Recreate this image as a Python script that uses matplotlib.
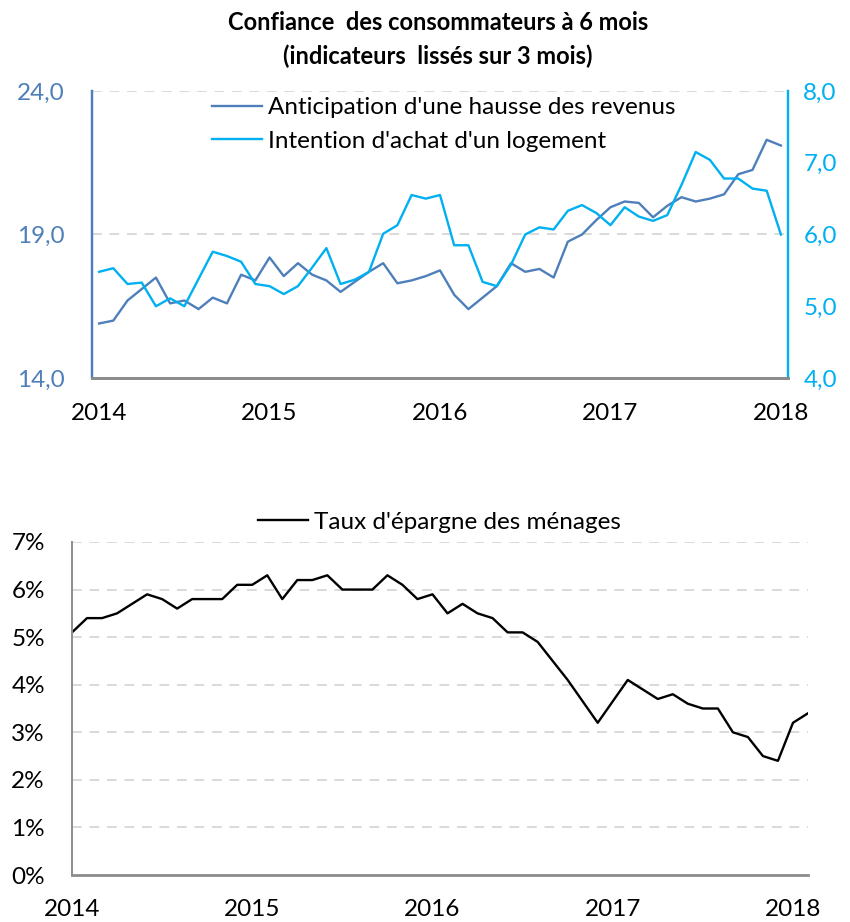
import matplotlib.pyplot as plt

plt.rcParams['font.family'] = ['Lato', 'DejaVu Sans']

# monthly points, Jan 2014 onwards
revenus = [15.9, 16.0, 16.7, 17.1, 17.5, 16.6, 16.7, 16.4, 16.8, 16.6,
           17.6, 17.4, 18.2, 17.55, 18.0, 17.6, 17.4, 17.0, 17.35, 17.7,
           18.0, 17.3, 17.4, 17.55, 17.75, 16.9, 16.4, 16.8, 17.2, 18.0,
           17.7, 17.8, 17.5, 18.75, 19.0, 19.5, 19.95, 20.15, 20.1, 19.6,
           20.0, 20.3, 20.15, 20.25, 20.4, 21.1, 21.25, 22.3, 22.1]
logement = [5.48, 5.53, 5.31, 5.33, 5.0, 5.11, 5.0, 5.38, 5.76, 5.7,
            5.62, 5.31, 5.28, 5.17, 5.28, 5.54, 5.81, 5.31, 5.37, 5.48,
            6.01, 6.13, 6.55, 6.5, 6.55, 5.85, 5.85, 5.34, 5.28, 5.58,
            6.0, 6.1, 6.07, 6.33, 6.41, 6.3, 6.13, 6.38, 6.25, 6.19,
            6.27, 6.69, 7.15, 7.04, 6.78, 6.78, 6.64, 6.61, 6.0]
epargne = [5.1, 5.4, 5.4, 5.5, 5.7, 5.9, 5.8, 5.6, 5.8, 5.8,
           5.8, 6.1, 6.1, 6.3, 5.8, 6.2, 6.2, 6.3, 6.0, 6.0,
           6.0, 6.3, 6.1, 5.8, 5.9, 5.5, 5.7, 5.5, 5.4, 5.1,
           5.1, 4.9, 4.5, 4.1, 3.65, 3.2, 3.65, 4.1, 3.9, 3.7,
           3.8, 3.6, 3.5, 3.5, 3.0, 2.9, 2.5, 2.4, 3.2, 3.4]
years = ['2014', '2015', '2016', '2017', '2018']

DARK = '#4F7FBA'
CYAN = '#00B0F0'
GRID = '#D9D9D9'
AXIS = '#8C8C8C'
FS = 17.5

fig = plt.figure(figsize=(8.5, 9.22), dpi=100)

# ---- top chart: consumer confidence ----
ax1 = fig.add_axes([92 / 850, 1 - 378 / 922, 696 / 850, 287 / 922])
ax2 = ax1.twinx()

x_top = range(len(revenus))
l1, = ax1.plot(x_top, revenus, color=DARK, lw=1.7,
               label="Anticipation d'une hausse des revenus")
l2, = ax2.plot(x_top, logement, color=CYAN, lw=1.7,
               label="Intention d'achat d'un logement")

ax1.set_xlim(-0.5, len(revenus) - 0.5)
ax1.set_ylim(14, 24)
ax2.set_ylim(4, 8)
ax1.set_yticks([14, 19, 24])
ax1.set_yticklabels(['14,0', '19,0', '24,0'])
ax2.set_yticks([4, 5, 6, 7, 8])
ax2.set_yticklabels(['4,0', '5,0', '6,0', '7,0', '8,0'])
ax1.set_xticks([0, 12, 24, 36, 48])
ax1.set_xticklabels(years)
for y in [19, 24]:
    ax1.axhline(y, color=GRID, lw=1.4, ls=(0, (5, 4)), zorder=0)

ax1.tick_params(axis='y', length=0, labelsize=FS, labelcolor=DARK, pad=19.5)
ax2.tick_params(axis='y', length=0, labelsize=FS, labelcolor=CYAN, pad=11)
ax1.tick_params(axis='x', length=0, labelsize=FS, pad=18)
for ax in (ax1, ax2):
    ax.spines['top'].set_visible(False)
    ax.spines['left'].set_color(DARK)
    ax.spines['left'].set_linewidth(1.6)
    ax.spines['right'].set_color(CYAN)
    ax.spines['right'].set_linewidth(1.6)
    ax.spines['bottom'].set_color(AXIS)
    ax.spines['bottom'].set_linewidth(2)

fig.legend(handles=[l1, l2], loc='center left',
           bbox_to_anchor=(212 / 850, 1 - 124.5 / 922), frameon=False,
           fontsize=FS, handlelength=2.05, handletextpad=0.25,
           borderpad=0, borderaxespad=0, labelspacing=0.5)

fig.text(0.515, 1 - 22 / 922, 'Confiance  des consommateurs à 6 mois',
         ha='center', va='center', fontsize=17, fontweight='bold')
fig.text(0.515, 1 - 56 / 922, '(indicateurs  lissés sur 3 mois)',
         ha='center', va='center', fontsize=17, fontweight='bold')

# ---- bottom chart: household savings rate ----
ax3 = fig.add_axes([72 / 850, 1 - 875 / 922, 736 / 850, 333 / 922])
x_bot = range(len(epargne))
l3, = ax3.plot(x_bot, epargne, color='black', lw=1.7,
               label="Taux d'épargne des ménages")
ax3.set_xlim(0, len(epargne) - 1)
ax3.set_ylim(0, 7)
ax3.set_yticks(range(0, 8))
ax3.set_yticklabels([f'{v}%' for v in range(0, 8)])
ax3.set_xticks([0, 12, 24, 36, 48])
ax3.set_xticklabels(years)
for y in range(1, 8):
    ax3.axhline(y, color=GRID, lw=1.4, ls=(0, (5, 4)), zorder=0)
ax3.tick_params(axis='y', length=0, labelsize=FS, pad=19.5)
ax3.tick_params(axis='x', length=0, labelsize=FS, pad=17)
ax3.spines['top'].set_visible(False)
ax3.spines['right'].set_visible(False)
ax3.spines['left'].set_color(AXIS)
ax3.spines['left'].set_linewidth(1.4)
ax3.spines['bottom'].set_color(AXIS)
ax3.spines['bottom'].set_linewidth(2)

fig.legend(handles=[l3], loc='center left',
           bbox_to_anchor=(258 / 850, 1 - 522 / 922), frameon=False,
           fontsize=FS, handlelength=2.05, handletextpad=0.25,
           borderpad=0, borderaxespad=0)

fig.savefig('out.png', dpi=100)
